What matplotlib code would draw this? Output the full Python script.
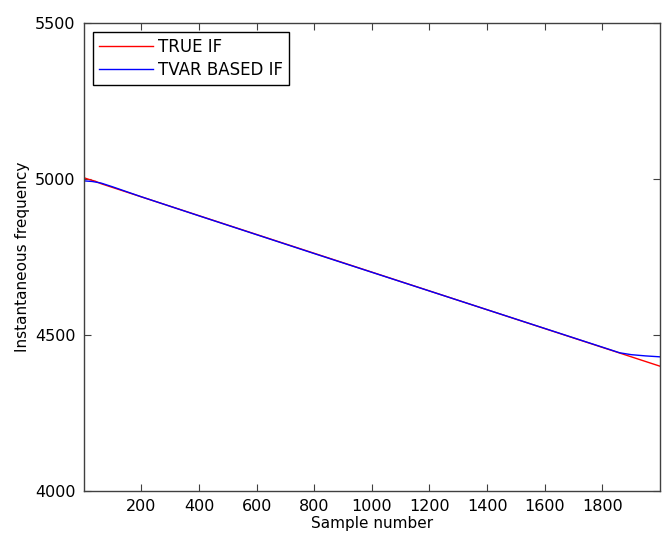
import matplotlib
matplotlib.use("Agg")
import matplotlib.pyplot as plt

# ── Data ──────────────────────────────────────────────────────────────────────
true_n = [1, 20, 40, 60, 2000]
true_if = [5004, 4998, 4993, 4985, 4400]

tvar_n = [1, 30, 60, 100, 200, 400, 800, 1200, 1600, 1800, 1860, 1880, 1900, 1950, 2000]
tvar_if = [4994, 4992, 4987, 4975, 4943, 4882, 4761, 4641, 4521, 4461, 4443, 4440, 4437, 4433, 4430]

x_ticks = [200, 400, 600, 800, 1000, 1200, 1400, 1600, 1800]
y_ticks = [4000, 4500, 5000, 5500]

plt.rcParams["font.family"] = ["DejaVu Sans"]
plt.rcParams["font.size"] = 11

fig = plt.figure(figsize=(6.71, 5.41), dpi=100)
ax = fig.add_axes([84 / 671, 50 / 541, 576 / 671, 468 / 541])

ax.plot(true_n, true_if, color="red", linewidth=1.0, label="TRUE IF")
ax.plot(tvar_n, tvar_if, color="blue", linewidth=1.0, label="TVAR BASED IF")

ax.set_xlim(1, 2000)
ax.set_ylim(4000, 5500)
ax.set_xticks(x_ticks)
ax.set_yticks(y_ticks)
ax.tick_params(direction="in", length=5, width=0.8, top=True, right=True,
               colors="#404040", labelcolor="black", labelsize=11.5, pad=6)
for s in ax.spines.values():
    s.set_color("#404040")
    s.set_linewidth(1.0)

ax.set_xlabel("Sample number", fontsize=11, labelpad=1)
ax.set_ylabel("Instantaneous frequency", fontsize=11, labelpad=4)

leg = ax.legend(loc="upper left", frameon=True, fancybox=False, edgecolor="black",
                framealpha=1, fontsize=12, borderaxespad=0.55, handlelength=3.25,
                handletextpad=0.3, labelspacing=0.3, borderpad=0.35)
leg.get_frame().set_linewidth(1.0)

fig.savefig("out.png", dpi=100)
